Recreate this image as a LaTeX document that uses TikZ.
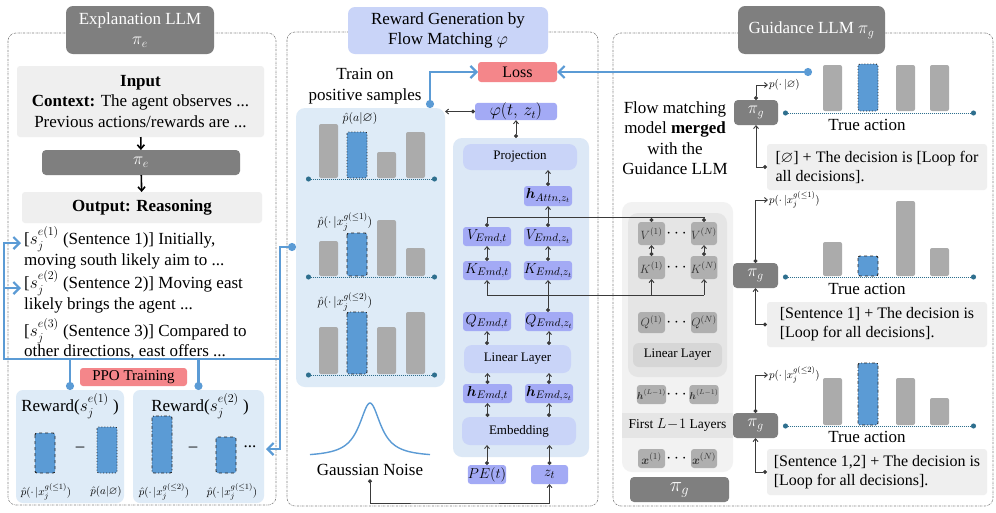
\documentclass[tikz,border=0pt]{standalone}
\usepackage{amsmath,amssymb}
\usepackage{fontspec}
\setmainfont{Liberation Serif}
\usetikzlibrary{arrows.meta,positioning}

\definecolor{llmgray}{HTML}{7F7F7F}
\definecolor{notegray}{HTML}{EFEFEF}
\definecolor{fmblue}{HTML}{5B9BD5}
\definecolor{paleblue}{HTML}{DEEBF7}
\definecolor{lossred}{HTML}{F4868A}
\definecolor{archpurple}{HTML}{A3AAF5}
\definecolor{archlight}{HTML}{C9D4F8}
\definecolor{archbg}{HTML}{DCE8F6}
\definecolor{bargray}{HTML}{ABABAB}
\definecolor{boxgray}{HTML}{AFAFAF}
\definecolor{axisblue}{HTML}{2E6F8E}
\definecolor{linegray}{HTML}{3A3A3A}

\newcommand{\fs}[2]{\fontsize{#1}{#2}\selectfont}
% box from its corners (x1,y1,x2,y2)
\newcommand{\boxat}[7]{%
  \node[#6, minimum width={(#4)-(#2)}, minimum height={(#5)-(#3)}] (#1)
    at ({((#2)+(#4))/2},{((#3)+(#5))/2}) {#7};}

\begin{document}
\begin{tikzpicture}[x=1pt, y=-1pt, font=\fs{17}{20.5},
  bx/.style={inner sep=0pt, outer sep=0pt, rounded corners=3pt, align=center},
  llm/.style={bx, fill=llmgray, text=white, rounded corners=4pt},
  title/.style={llm, rounded corners=7pt},
  note/.style={bx, fill=notegray},
  arch/.style={bx, fill=archpurple, font=\fs{15}{16}},
  archwide/.style={bx, fill=archlight, rounded corners=8pt, font=\fs{13}{15}},
  gbox/.style={bx, fill=boxgray, text=black!80, font=\fs{13}{15}},
  lbl/.style={inner sep=1pt, font=\fs{13}{15}},
  sent/.style={anchor=west, align=left, inner sep=0pt},
  panel/.style={draw=gray, line width=0.6pt, dash pattern=on 2pt off 1pt on 0.5pt off 1pt, rounded corners=8pt},
  fb/.style={draw=fmblue, line width=2.2pt},
  fbarrow/.style={fb, {Circle[length=8pt]}-{Straight Barb[length=6pt,width=12pt]}},
  blk/.style={line width=1.6pt, -{Straight Barb[length=4pt,width=7pt]}},
  gline/.style={draw=linegray, line width=0.9pt},
  upar/.style={gline, {Circle[length=4pt]}-{Straight Barb[length=3pt,width=5pt]}},
  axisline/.style={draw=axisblue, densely dotted, line width=1pt, {Circle[length=5pt]}-{Circle[length=5pt]}},
  graybar/.style={fill=bargray, rounded corners=2pt},
  bluebar/.style={fill=fmblue, draw=black!85, line width=0.9pt, rounded corners=2pt}]

\fill[white] (0,0) rectangle (996,512);
\useasboundingbox (0,0) rectangle (996,512);

% panels
\draw[panel] (8,33) rectangle (276,505);
\draw[panel] (287,32) rectangle (598,506);
\draw[panel] (613,33) rectangle (993,506);

\boxat{expTitle}{66}{6}{214}{54}{title}{Explanation LLM\\$\pi_e$}
\boxat{rewTitle}{348}{7}{548}{54}{title, fill=archlight, text=black}{Reward Generation by\\Flow Matching $\varphi$}
\boxat{guiTitle}{738}{6}{885}{54}{title}{Guidance LLM $\pi_g$}

% explanation LLM
\boxat{input}{17}{66}{264}{137}{note}{\textbf{Input}\\\textbf{Context:} The agent observes ...\\Previous actions/rewards are ...}
\boxat{piE}{42}{150}{240}{175}{llm}{$\pi_e$}
\boxat{output}{22}{192}{262}{223}{note}{\textbf{Output: Reasoning}}
\draw[blk] (input) -- (piE);
\draw[blk] (piE) -- (output);

\node[sent] (sent1) at (24,248) {[$s_j^{e(1)}$ (Sentence 1)] Initially,\\moving south likely aim to ...};
\node[sent] (sent2) at (24,292) {[$s_j^{e(2)}$ (Sentence 2)] Moving east\\likely brings the agent ...};
\node[sent] (sent3) at (24,339) {[$s_j^{e(3)}$ (Sentence 3)] Compared to\\other directions, east offers ...};

\boxat{rew1}{16}{390}{124}{503}{bx, fill=paleblue, rounded corners=7pt}{}
\boxat{rew2}{133}{390}{264}{503}{bx, fill=paleblue, rounded corners=7pt}{}
\boxat{ppo}{80}{368}{187}{386}{bx, fill=lossred, font=\fs{15}{18}}{PPO Training}
\node (rew1lbl) at (70,406) {Reward($s_j^{e(1)}$ )};
\node (rew2lbl) at (200,406) {Reward($s_j^{e(2)}$ )};
\draw[bluebar, dashed] (35,433) rectangle (55,473);
\draw[bluebar, dotted] (97,427) rectangle (117,473);
\draw[bluebar, dash dot] (152,416) rectangle (172,473);
\draw[bluebar, dashed] (216,437) rectangle (236,473);
\node (minus1) at (80,449) {--};
\node (minus2) at (193,449) {--};
\node (more) at (250,447) {...};
\node[lbl, font=\fs{11}{13}, inner sep=0pt] (pr1) at (46,492) {$\hat p(\cdot\,|x_j^{g(\le 1)})$};
\node[lbl, font=\fs{11}{13}, inner sep=0pt] (pr2) at (106,492) {$\hat p(a|\varnothing)$};
\node[lbl, font=\fs{11}{13}, inner sep=0pt] (pr3) at (164,492) {$\hat p(\cdot\,|x_j^{g(\le 2)})$};
\node[lbl, font=\fs{11}{13}, inner sep=0pt] (pr4) at (232,492) {$\hat p(\cdot\,|x_j^{g(\le 1)})$};

% flow matching
\node[align=center] (trainTxt) at (365,86) {Train on\\positive samples};
\boxat{probBox}{296}{108}{445}{387}{bx, fill=paleblue, rounded corners=9pt}{}
\foreach \x/\t/\b in {319/124/178, 377/152/178, 406/132/178,
                      319/241/276, 377/220/276, 406/248/276,
                      319/327/374, 377/327/374, 406/312/374}
  \fill[graybar] (\x,\t) rectangle (\x+19,\b);
\draw[bluebar, dotted] (347,132) rectangle (367,178);
\draw[bluebar, dashed] (347,233) rectangle (367,276);
\draw[bluebar, dash dot] (347,312) rectangle (367,374);
\foreach \y in {179,277,375}
  \draw[axisline] (306,\y) -- (437,\y);
\node[lbl] (pa) at (360,118) {$\hat p(a|\varnothing)$};
\node[lbl] (pb) at (345,222) {$\hat p(\cdot\,|x_j^{g(\le 1)})$};
\node[lbl] (pc) at (345,302) {$\hat p(\cdot\,|x_j^{g(\le 2)})$};

\boxat{loss}{478}{62}{557}{82}{bx, fill=lossred, font=\fs{16}{18}}{Loss}
\boxat{phi}{475}{103}{557}{120}{arch, font=\fs{16}{18}}{$\varphi(t,\,z_t)$}
\boxat{archBg}{453}{138}{589}{457}{bx, fill=archbg, rounded corners=9pt}{}
\boxat{proj}{463}{144}{577}{170}{archwide}{Projection}
\boxat{hAttn}{524}{186}{572}{206}{arch}{$\boldsymbol{h}_{Attn,z_t}$}
\boxat{vEt}{463}{227}{511}{246}{arch}{$V_{Emd,t}$}
\boxat{vEz}{524}{227}{572}{246}{arch}{$V_{Emd,z_t}$}
\boxat{kEt}{463}{261}{511}{280}{arch}{$K_{Emd,t}$}
\boxat{kEz}{524}{261}{572}{280}{arch}{$K_{Emd,z_t}$}
\boxat{qEt}{463}{312}{511}{331}{arch}{$Q_{Emd,t}$}
\boxat{qEz}{525}{312}{573}{331}{arch}{$Q_{Emd,z_t}$}
\boxat{lin}{464}{345}{571}{373}{archwide}{Linear Layer}
\boxat{hEt}{463}{384}{512}{403}{arch}{$\boldsymbol{h}_{Emd,t}$}
\boxat{hEz}{525}{384}{573}{403}{arch}{$\boldsymbol{h}_{Emd,z_t}$}
\boxat{emb}{462}{417}{576}{445}{archwide}{Embedding}
\boxat{pe}{468}{465}{506}{484}{arch}{$PE(t)$}
\boxat{zt}{531}{465}{568}{484}{arch}{$z_t$}

\draw[upar] (pe.north) -- (pe.north |- emb.south);
\draw[upar] (zt.north) -- (zt.north |- emb.south);
\draw[upar] (hEt.south |- emb.north) -- (hEt.south);
\draw[upar] (hEz.south |- emb.north) -- (hEz.south);
\draw[upar] (hEt.north) -- (hEt.north |- lin.south);
\draw[upar] (hEz.north) -- (hEz.north |- lin.south);
\draw[upar] (qEt.south |- lin.north) -- (qEt.south);
\draw[upar] (qEz.south |- lin.north) -- (qEz.south);
\draw[upar] (kEz.south |- qEz.north) -- (kEz.south);
\draw[upar] (kEt.north) -- (kEt.north |- vEt.south);
\draw[upar] (kEz.north) -- (kEz.north |- vEz.south);
\draw[upar] (vEz.north) -- (vEz.north |- hAttn.south);
\draw[upar] (hAttn.north) -- (hAttn.north |- proj.south);
\draw[upar] (phi.south |- archBg.north) -- (phi.south);
\draw[gline, {Circle[length=4pt]}-{Straight Barb[length=3pt,width=5pt]}] (phi.west) -- (phi.west -| probBox.east);

\node[align=center] (gauss) at (370,470) {Gaussian Noise};
\draw[fmblue, line width=1.4pt, domain=310:430, samples=90]
  plot (\x, {457 - 54/(1+((\x-370)/13)^2)});
\coordinate (noiseBus) at (450,503);
\draw[gline, {Circle[length=4pt]}-{Straight Barb[length=3pt,width=5pt]}] (gauss.south) |- (noiseBus) -| (zt.south);

% guidance LLM
\node[align=center] (mergeTxt) at (675,138) {Flow matching\\model \textbf{merged}\\with the\\Guidance LLM};

\boxat{gBg}{622}{202}{733}{472}{bx, fill=black!5, rounded corners=10pt}{}
\boxat{gAttn}{628}{213}{727}{377}{bx, fill=black!10, rounded corners=10pt}{}
\boxat{firstL}{622}{413}{733}{438}{bx, fill=black!10, rounded corners=0pt, font=\fs{13.5}{15}}{First $L\!-\!1$ Layers}
\boxat{v1}{638}{222}{665}{245}{gbox}{$V^{(1)}$}
\boxat{vN}{691}{222}{717}{245}{gbox}{$V^{(N)}$}
\boxat{k1}{638}{256}{665}{279}{gbox}{$K^{(1)}$}
\boxat{kN}{691}{256}{717}{279}{gbox}{$K^{(N)}$}
\boxat{q1}{638}{312}{665}{333}{gbox}{$Q^{(1)}$}
\boxat{qN}{691}{312}{717}{333}{gbox}{$Q^{(N)}$}
\boxat{gLin}{633}{343}{722}{367}{bx, fill=black!16, rounded corners=6pt, font=\fs{13}{15}}{Linear Layer}
\boxat{h1}{638}{385}{665}{404}{gbox, font=\fs{10}{12}}{$\boldsymbol{h}^{(L-1)}$}
\boxat{hN}{691}{385}{717}{404}{gbox, font=\fs{10}{12}}{$\boldsymbol{h}^{(L-1)}$}
\boxat{x1}{638}{449}{665}{468}{gbox}{$\boldsymbol{x}^{(1)}$}
\boxat{xN}{691}{449}{717}{468}{gbox}{$\boldsymbol{x}^{(N)}$}
\foreach \y in {234,268,323,395,459}
  \node (dots\y) at (678,\y) {$\cdots$};
\boxat{piGbig}{630}{477}{729}{502}{llm, font=\fs{20}{22}}{$\pi_g$}
\draw[upar] (k1.north) -- (k1.north |- v1.south);
\draw[upar] (kN.north) -- (kN.north |- vN.south);

% shared V and K lines
\coordinate (vBus) at (600,217);
\coordinate (kBus) at (600,295);
\draw[gline] (vEt.north |- vBus) -- (vN.north |- vBus);
\foreach \n in {vEt,v1,vN}
  \draw[gline, {Circle[length=4pt]}-] (\n.north) -- (\n.north |- vBus);
\draw[gline] (kEt.south |- kBus) -- (kN.south |- kBus);
\foreach \n in {kEt,k1,kN}
  \draw[gline, -{Straight Barb[length=3pt,width=5pt]}] (\n.south |- kBus) -- (\n.south);

% three guidance queries
\boxat{piG1}{734}{100}{778}{125}{llm}{$\pi_g$}
\boxat{piG2}{733}{263}{778}{288}{llm}{$\pi_g$}
\boxat{piG3}{733}{413}{778}{438}{llm}{$\pi_g$}
\node[lbl, anchor=west, font=\fs{11}{13}] (pg1) at (768,85) {$p(\cdot\,|\varnothing)$};
\node[lbl, anchor=west, font=\fs{11}{13}] (pg2) at (768,200) {$p(\cdot\,|x_j^{g(\le 1)})$};
\node[lbl, anchor=west, font=\fs{11}{13}] (pg3) at (768,375) {$p(\cdot\,|x_j^{g(\le 2)})$};
\foreach \i in {1,2,3}
  \draw[upar] (piG\i.north) |- (pg\i.west);

\foreach \x/\t/\b in {823/65/111, 896/65/111, 930/65/111,
                      823/242/276, 896/201/276, 930/248/276,
                      823/378/425, 896/378/425, 930/398/425}
  \fill[graybar] (\x,\t) rectangle (\x+19,\b);
\draw[bluebar, dotted] (858,64) rectangle (878,111);
\draw[bluebar, dashed] (858,256) rectangle (878,276);
\draw[bluebar, dash dot] (858,363) rectangle (878,425);
\foreach \y in {113,277,426}
  \draw[axisline] (783,\y) -- (976,\y);
\node (true1) at (867,125) {True action};
\node (true2) at (867,289) {True action};
\node (true3) at (867,437) {True action};

\boxat{dec1}{767}{144}{987}{190}{note, align=left, font=\fs{16}{19}}{[$\varnothing$] + The decision is [Loop for\\{}all decisions].}
\boxat{dec2}{767}{302}{987}{347}{note, align=left, font=\fs{16}{19}}{[Sentence 1] + The decision is\\{}[Loop for all decisions].}
\boxat{dec3}{767}{449}{987}{495}{note, align=left, font=\fs{16}{19}}{[Sentence 1,2] + The decision is\\{}[Loop for all decisions].}
\foreach \i in {1,2,3}
  \draw[upar] (dec\i.west) -| (piG\i.south);

% feedback lines
\coordinate (gStart) at (812,72);
\coordinate (probTop) at (430,108);
\coordinate (probLeft) at (296,247);
\coordinate (toS1) at (21,243);
\coordinate (toS2) at (21,288);
\coordinate (bus) at (4,359);
\coordinate (busEnd) at (280,359);
\coordinate (toMore) at (266,449);
\draw[fbarrow] (gStart) -- (loss.east);
\draw[fbarrow] (probTop) |- (loss.west);
\draw[fb] (bus) -- (busEnd);
\draw[fbarrow] (probLeft) -| (busEnd) |- (toMore);
\draw[fbarrow] (rew1.north) |- (bus) |- (toS1);
\draw[fbarrow] (rew2.north) |- (bus) |- (toS2);
\end{tikzpicture}
\end{document}
